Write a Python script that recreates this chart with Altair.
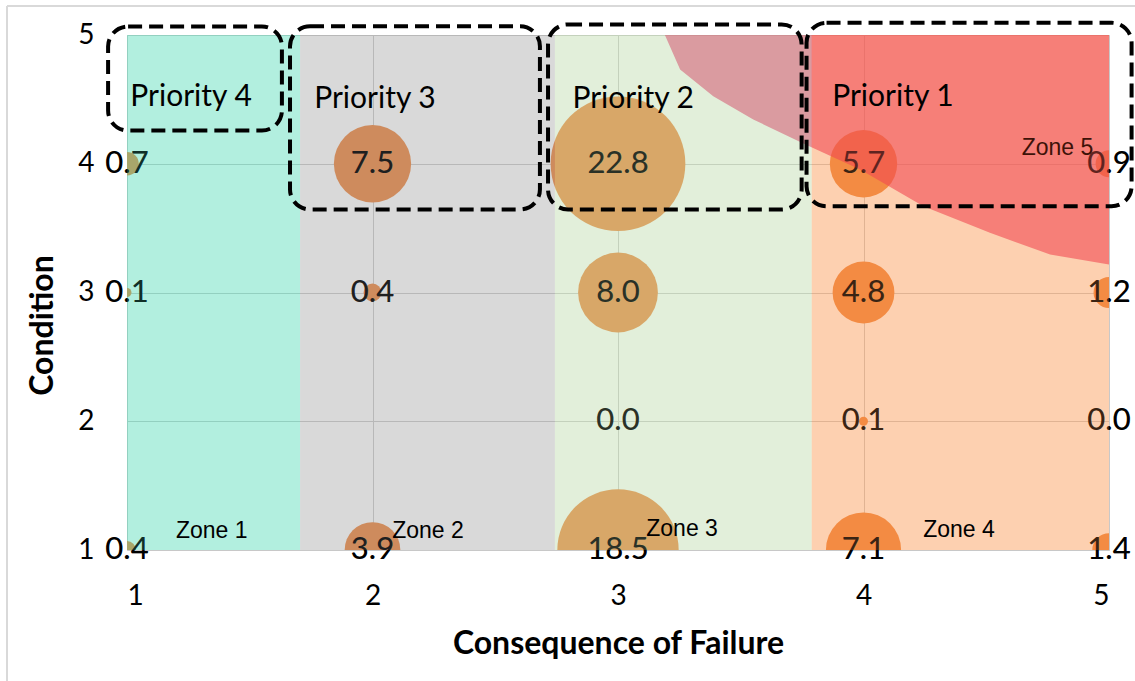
import math
import altair as alt
import pandas as pd

# ---- data ----
cof = [1, 1, 1, 2, 2, 2, 3, 3, 3, 3, 4, 4, 4, 4, 5, 5, 5, 5]
cond = [4, 3, 1, 4, 3, 1, 4, 3, 2, 1, 4, 3, 2, 1, 4, 3, 2, 1]
value = [0.7, 0.1, 0.4, 7.5, 0.4, 3.9, 22.8, 8.0, 0.0, 18.5,
         5.7, 4.8, 0.1, 7.1, 0.9, 1.2, 0.0, 1.4]
labels = ["0.7", "0.1", "0.4", "7.5", "0.4", "3.9", "22.8", "8.0", "0.0", "18.5",
          "5.7", "4.8", "0.1", "7.1", "0.9", "1.2", "0.0", "1.4"]

zone_names = ["Zone 1", "Zone 2", "Zone 3", "Zone 4"]
zone_x0 = [1.0, 1.705, 2.743, 3.789]
zone_x1 = [1.705, 2.743, 3.789, 5.0]
zone_fill = ["#50DAB6", "#A0A0A0", "#BFDCAD", "#FB9B57"]
zone_alpha = [0.44, 0.40, 0.45, 0.47]

# Zone 5 boundary curve (top-right region)
z5_x = [3.191, 3.253, 3.388, 3.551, 3.768, 3.986, 4.244, 4.515, 4.760, 5.0]
z5_y = [5.0, 4.732, 4.525, 4.344, 4.145, 3.955, 3.670, 3.464, 3.295, 3.218]

zone_lab = ["Zone 1", "Zone 2", "Zone 3", "Zone 4", "Zone 5"]
zone_lab_x = [1.345, 2.226, 3.261, 4.389, 4.79]
zone_lab_y = [1.148, 1.148, 1.160, 1.155, 4.124]
zone_lab_col = ["#000000", "#000000", "#000000", "#000000", "#3d1208"]

prio = ["Priority 4", "Priority 3", "Priority 2", "Priority 1"]
prio_x = [1.261, 2.01, 3.062, 4.12]
prio_y = [4.522, 4.50, 4.50, 4.522]
box_x0 = [0.923, 1.664, 2.715, 3.768]
box_x1 = [1.631, 2.682, 3.748, 5.092]
box_y0 = [4.258, 3.645, 3.645, 3.670]
box_y1 = [5.066, 5.068, 5.082, 5.095]

axis_vals = [1, 2, 3, 4, 5]

FONT = "Lato"
W, H = 982, 515
R_MAX = 76.0

xs = alt.Scale(domain=[1, 5], nice=False, zero=False)
ys = alt.Scale(domain=[1, 5], nice=False, zero=False)

bub = pd.DataFrame({"cof": cof, "cond": cond, "v": value, "lab": labels})
zones = pd.DataFrame({"name": zone_names, "x0": zone_x0, "x1": zone_x1,
                      "fill": zone_fill, "a": zone_alpha,
                      "y0": [1] * 4, "y1": [5] * 4})
z5 = pd.DataFrame({"x": z5_x, "y": z5_y, "top": [5.0] * len(z5_x)})
zl = pd.DataFrame({"t": zone_lab, "x": zone_lab_x, "y": zone_lab_y, "c": zone_lab_col})
pr = pd.DataFrame({"t": prio, "x": prio_x, "y": prio_y})
bx = pd.DataFrame({"x0": box_x0, "x1": box_x1, "y0": box_y0, "y1": box_y1})

xaxis = alt.Axis(values=axis_vals, format="d", title="Consequence of Failure",
                 grid=True, gridColor="#c8c8c8", domain=False, ticks=False,
                 labelFont=FONT, labelFontSize=28, labelColor="#000000",
                 labelPadding=32, titleFont=FONT, titleFontSize=32,
                 titleFontWeight="bold", titleColor="#000000",
                 titleY=93, titleBaseline="middle")
yaxis = alt.Axis(values=axis_vals, format="d", title="Condition",
                 grid=True, gridColor="#c8c8c8", domain=False, ticks=False,
                 labelFont=FONT, labelFontSize=28, labelColor="#000000",
                 labelPadding=33, titleFont=FONT, titleFontSize=32,
                 titleFontWeight="bold", titleColor="#000000",
                 titleX=-85, titleY=290, titleAngle=270,
                 titleBaseline="middle", titleAlign="center")

bubbles = alt.Chart(bub).mark_circle(clip=True, opacity=1, color="#ED7D31").encode(
    x=alt.X("cof:Q", scale=xs, axis=xaxis),
    y=alt.Y("cond:Q", scale=ys, axis=yaxis),
    size=alt.Size("v:Q", scale=alt.Scale(domain=[0, 22.8],
                  range=[0, math.pi * R_MAX ** 2], zero=True), legend=None),
)

blabels = alt.Chart(bub).mark_text(font=FONT, fontSize=31, color="#000000",
                                   align="center", baseline="middle").encode(
    x=alt.X("cof:Q", scale=xs), y=alt.Y("cond:Q", scale=ys), text="lab:N")

blabels_top = alt.Chart(bub).mark_text(font=FONT, fontSize=31, color="#000000",
                                       opacity=0.5, align="center",
                                       baseline="middle").encode(
    x=alt.X("cof:Q", scale=xs), y=alt.Y("cond:Q", scale=ys), text="lab:N")

zone5 = alt.Chart(z5).mark_area(color="#E8004F", opacity=0.6).encode(
    x=alt.X("x:Q", scale=xs), y=alt.Y("y:Q", scale=ys), y2="top:Q")

zrects = alt.Chart(zones).mark_rect().encode(
    x=alt.X("x0:Q", scale=xs), x2="x1:Q",
    y=alt.Y("y0:Q", scale=ys), y2="y1:Q",
    color=alt.Color("fill:N", scale=None),
    opacity=alt.Opacity("a:Q", scale=None))

zlabels = alt.Chart(zl).mark_text(font="Liberation Sans", fontSize=23,
                                  align="center", baseline="middle").encode(
    x=alt.X("x:Q", scale=xs), y=alt.Y("y:Q", scale=ys), text="t:N",
    color=alt.Color("c:N", scale=None))

boxes = alt.Chart(bx).mark_rect(fillOpacity=0, stroke="#000000", strokeWidth=4,
                                strokeDash=[14, 7], cornerRadius=20).encode(
    x=alt.X("x0:Q", scale=xs), x2="x1:Q",
    y=alt.Y("y0:Q", scale=ys), y2="y1:Q")

plabels = alt.Chart(pr).mark_text(font=FONT, fontSize=30, color="#000000",
                                  align="center", baseline="middle").encode(
    x=alt.X("x:Q", scale=xs), y=alt.Y("y:Q", scale=ys), text="t:N")

border_top = alt.Chart(bub).mark_rule(color="#d9d9d9", strokeWidth=1.5).encode(
    x=alt.value(-120), x2=alt.value(1010), y=alt.value(-29))
border_left = alt.Chart(bub).mark_rule(color="#d9d9d9", strokeWidth=1.5).encode(
    x=alt.value(-120), y=alt.value(-29), y2=alt.value(650))

chart = alt.layer(
    bubbles, blabels, zone5, zrects, blabels_top, zlabels, boxes, plabels,
    border_top, border_left
).properties(
    width=W, height=H,
    autosize=alt.AutoSizeParams(type="none"),
    padding={"left": 127, "top": 35, "right": 26, "bottom": 131},
).configure_view(stroke=None).configure(background="#ffffff")

chart.save("out.html", embed_options={"renderer": "svg", "actions": False})
